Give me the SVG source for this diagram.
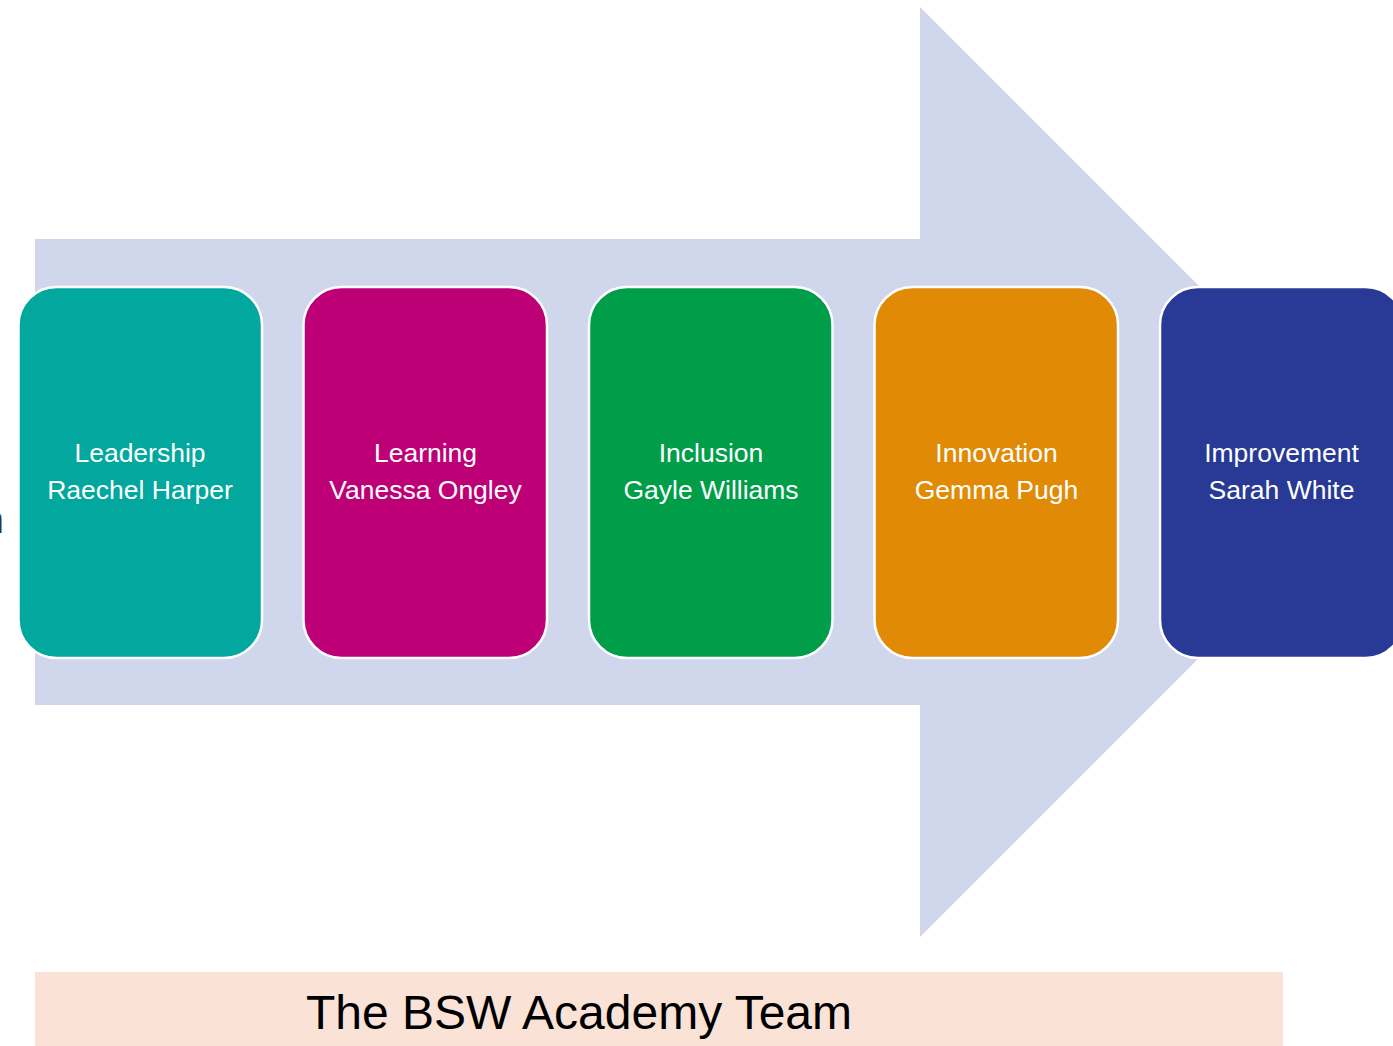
<svg xmlns="http://www.w3.org/2000/svg" width="1393" height="1046" viewBox="0 0 1393 1046">
  <style>
    .card { stroke: #ffffff; stroke-width: 2.5; }
    .label { font-family: "Liberation Sans", Arial, sans-serif; font-size: 26.5px; fill: #ffffff; text-anchor: middle; }
    .title { font-family: "Liberation Sans", Arial, sans-serif; font-size: 48px; fill: #000000; }
  </style>
  <rect x="0" y="0" width="1393" height="1046" fill="#ffffff"/>

  <!-- large background arrow -->
  <g id="arrow">
    <polygon points="35,239 920,239 920,7 1385,472 920,937 920,705 35,705" fill="#D0D6EB"/>
  </g>

  <!-- clipped text fragment at the left edge -->
  <text x="4" y="533" font-family="Liberation Sans, Arial, sans-serif" font-size="38" fill="#333333" text-anchor="end">n</text>

  <g id="connectors"></g>

  <g id="node-leadership">
    <rect class="card" x="18.5" y="287" width="243.5" height="371" rx="38" fill="#02A89E"/>
    <text class="label" x="140" y="462">Leadership</text>
    <text class="label" x="140" y="499">Raechel Harper</text>
  </g>
  <g id="node-learning">
    <rect class="card" x="303.5" y="287" width="243.5" height="371" rx="38" fill="#BE0077"/>
    <text class="label" x="425.5" y="462">Learning</text>
    <text class="label" x="425.5" y="499">Vanessa Ongley</text>
  </g>
  <g id="node-inclusion">
    <rect class="card" x="589" y="287" width="243.5" height="371" rx="38" fill="#009E49"/>
    <text class="label" x="711" y="462">Inclusion</text>
    <text class="label" x="711" y="499">Gayle Williams</text>
  </g>
  <g id="node-innovation">
    <rect class="card" x="874.5" y="287" width="243.5" height="371" rx="38" fill="#E08A05"/>
    <text class="label" x="996.5" y="462">Innovation</text>
    <text class="label" x="996.5" y="499">Gemma Pugh</text>
  </g>
  <g id="node-improvement">
    <rect class="card" x="1160" y="287" width="243.5" height="371" rx="38" fill="#283A95"/>
    <text class="label" x="1281.5" y="462">Improvement</text>
    <text class="label" x="1281.5" y="499">Sarah White</text>
  </g>

  <g id="title-bar">
    <rect x="35" y="972" width="1248" height="80" fill="#FAE3D6"/>
    <text class="title" x="306" y="1029">The BSW Academy Team</text>
  </g>
</svg>
